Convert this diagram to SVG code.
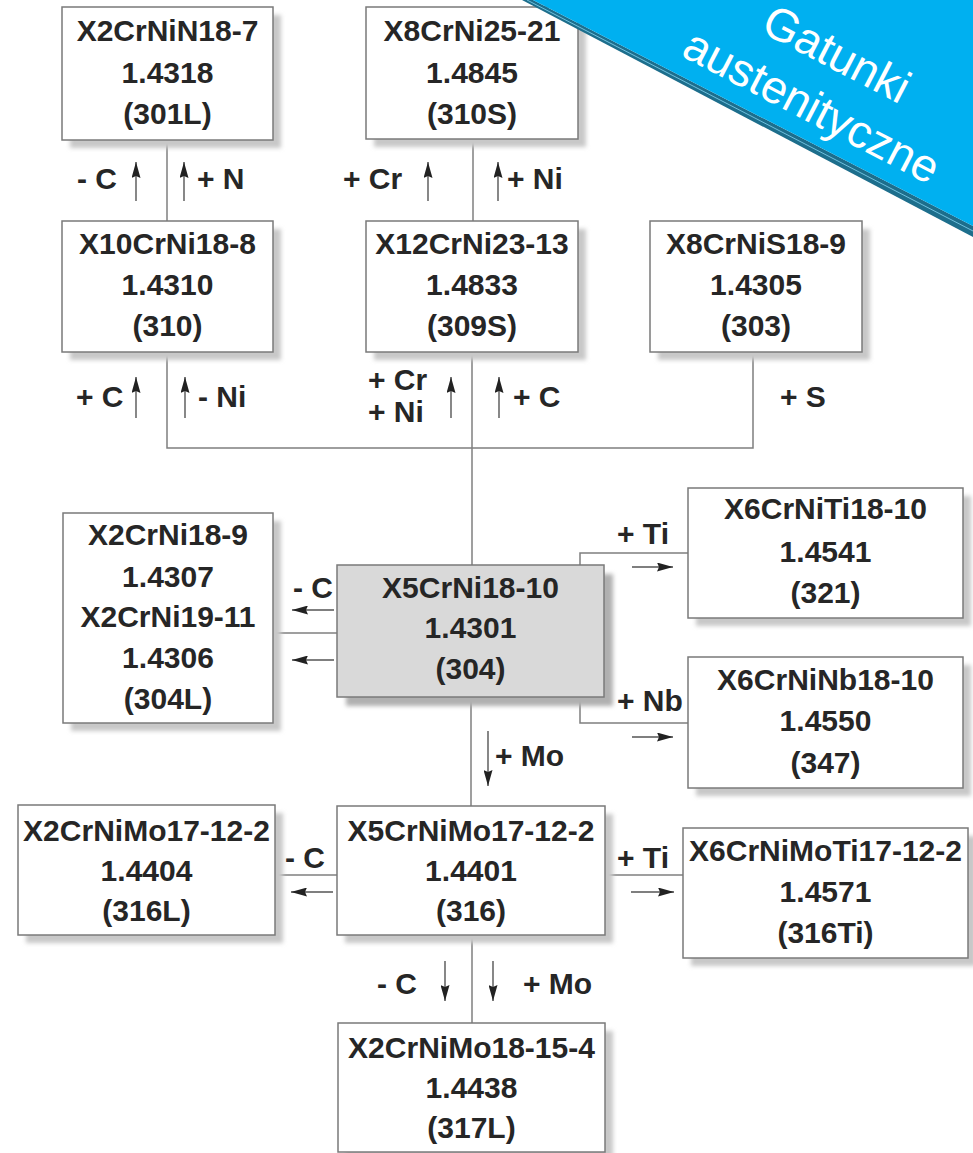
<svg xmlns="http://www.w3.org/2000/svg" width="973" height="1153" viewBox="0 0 973 1153">
<style>
.box{fill:#fff;stroke:#7a7a7a;stroke-width:1.5}
.cbox{fill:#d9d9d9;stroke:#7a7a7a;stroke-width:1.5}
.sh{fill:#c8c8c8;filter:url(#blur)}
.csh{fill:#b0b0b0;filter:url(#blur)}
.t{font-family:"Liberation Sans",Arial,sans-serif;font-weight:bold;font-size:30px;fill:#262626;text-anchor:middle}
.l{font-family:"Liberation Sans",Arial,sans-serif;font-weight:bold;font-size:30px;fill:#262626}
.c{fill:none;stroke:#7f7f7f;stroke-width:1.5}
.a{stroke:#555;stroke-width:1.4;marker-end:url(#ah)}
.b{font-family:"Liberation Sans",Arial,sans-serif;font-size:46px;fill:#fff;text-anchor:middle}
</style>
<defs>
<filter id="blur" x="-10%" y="-10%" width="120%" height="120%"><feGaussianBlur stdDeviation="2"/></filter>
<marker id="ah" viewBox="0 0 16 9" refX="16" refY="4.5" markerWidth="16" markerHeight="9" orient="auto" markerUnits="userSpaceOnUse"><path d="M0,0 L16,4.5 L0,9 L2,4.5 z" fill="#222"/></marker>
</defs>
<rect width="973" height="1153" fill="#fff"/>

<g id="connectors">
<path class="c" d="M167,140 V221"/>
<path class="c" d="M473,139 V221"/>
<path class="c" d="M167,352 V448 H753 V352"/>
<path class="c" d="M472,352 V565"/>
<path class="c" d="M273,633 H337"/>
<path class="c" d="M580,565 V553 H688"/>
<path class="c" d="M580,697 V723 H688"/>
<path class="c" d="M471,697 V806"/>
<path class="c" d="M275,875 H337"/>
<path class="c" d="M605,875 H683"/>
<path class="c" d="M472,935 V1023"/>
<line class="a" x1="136" y1="201" x2="136" y2="162"/>
<line class="a" x1="184" y1="201" x2="184" y2="162"/>
<line class="a" x1="428" y1="201" x2="428" y2="162"/>
<line class="a" x1="498" y1="201" x2="498" y2="162"/>
<line class="a" x1="136" y1="418" x2="136" y2="377"/>
<line class="a" x1="185" y1="418" x2="185" y2="377"/>
<line class="a" x1="451" y1="418" x2="451" y2="377"/>
<line class="a" x1="499" y1="418" x2="499" y2="377"/>
<line class="a" x1="488" y1="731" x2="488" y2="786"/>
<line class="a" x1="445" y1="961" x2="445" y2="1001"/>
<line class="a" x1="493" y1="961" x2="493" y2="1001"/>
<line class="a" x1="334" y1="610" x2="292" y2="610"/>
<line class="a" x1="334" y1="660" x2="292" y2="660"/>
<line class="a" x1="333" y1="892" x2="291" y2="892"/>
<line class="a" x1="632" y1="567" x2="673" y2="567"/>
<line class="a" x1="632" y1="737" x2="673" y2="737"/>
<line class="a" x1="631" y1="892" x2="674" y2="892"/>
<text class="l" x="77" y="189">- C</text>
<text class="l" x="197" y="189">+ N</text>
<text class="l" x="343" y="189">+ Cr</text>
<text class="l" x="507" y="189">+ Ni</text>
<text class="l" x="76" y="407">+ C</text>
<text class="l" x="198" y="407">- Ni</text>
<text class="l" x="368" y="390">+ Cr</text>
<text class="l" x="368" y="422">+ Ni</text>
<text class="l" x="513" y="407">+ C</text>
<text class="l" x="780" y="407">+ S</text>
<text class="l" x="293" y="598">- C</text>
<text class="l" x="617" y="544">+ Ti</text>
<text class="l" x="617" y="711">+ Nb</text>
<text class="l" x="495" y="766">+ Mo</text>
<text class="l" x="285" y="868">- C</text>
<text class="l" x="617" y="868">+ Ti</text>
<text class="l" x="377" y="994">- C</text>
<text class="l" x="523" y="994">+ Mo</text>
</g>

<g id="n1">
<rect class="sh" x="70" y="15" width="211" height="133"/>
<rect class="box" x="62" y="7" width="211" height="133"/>
<text class="t" x="167.5" y="41">X2CrNiN18-7</text>
<text class="t" x="167.5" y="83">1.4318</text>
<text class="t" x="167.5" y="124">(301L)</text>
</g>
<g id="n2">
<rect class="sh" x="374" y="15" width="212" height="132"/>
<rect class="box" x="366" y="7" width="212" height="132"/>
<text class="t" x="472" y="41">X8CrNi25-21</text>
<text class="t" x="472" y="83">1.4845</text>
<text class="t" x="472" y="124">(310S)</text>
</g>
<g id="n3">
<rect class="sh" x="70" y="229" width="211" height="131"/>
<rect class="box" x="62" y="221" width="211" height="131"/>
<text class="t" x="167.5" y="254">X10CrNi18-8</text>
<text class="t" x="167.5" y="295">1.4310</text>
<text class="t" x="167.5" y="336">(310)</text>
</g>
<g id="n4">
<rect class="sh" x="374" y="229" width="212" height="131"/>
<rect class="box" x="366" y="221" width="212" height="131"/>
<text class="t" x="472" y="254">X12CrNi23-13</text>
<text class="t" x="472" y="295">1.4833</text>
<text class="t" x="472" y="336">(309S)</text>
</g>
<g id="n5">
<rect class="sh" x="658" y="229" width="212" height="131"/>
<rect class="box" x="650" y="221" width="212" height="131"/>
<text class="t" x="756" y="254">X8CrNiS18-9</text>
<text class="t" x="756" y="295">1.4305</text>
<text class="t" x="756" y="336">(303)</text>
</g>
<g id="n6">
<rect class="sh" x="71" y="521" width="210" height="210"/>
<rect class="box" x="63" y="513" width="210" height="210"/>
<text class="t" x="168" y="545">X2CrNi18-9</text>
<text class="t" x="168" y="587">1.4307</text>
<text class="t" x="168" y="627">X2CrNi19-11</text>
<text class="t" x="168" y="668">1.4306</text>
<text class="t" x="168" y="709">(304L)</text>
</g>
<g id="n7">
<rect class="csh" x="346" y="574" width="267" height="132"/>
<rect class="cbox" x="337" y="565" width="267" height="132"/>
<text class="t" x="470.5" y="598">X5CrNi18-10</text>
<text class="t" x="470.5" y="638">1.4301</text>
<text class="t" x="470.5" y="679">(304)</text>
</g>
<g id="n8">
<rect class="sh" x="696" y="496" width="275" height="130"/>
<rect class="box" x="688" y="488" width="275" height="130"/>
<text class="t" x="825.5" y="519">X6CrNiTi18-10</text>
<text class="t" x="825.5" y="562">1.4541</text>
<text class="t" x="825.5" y="603">(321)</text>
</g>
<g id="n9">
<rect class="sh" x="696" y="665" width="275" height="131"/>
<rect class="box" x="688" y="657" width="275" height="131"/>
<text class="t" x="825.5" y="690">X6CrNiNb18-10</text>
<text class="t" x="825.5" y="731">1.4550</text>
<text class="t" x="825.5" y="773">(347)</text>
</g>
<g id="n10">
<rect class="sh" x="26" y="813" width="257" height="130"/>
<rect class="box" x="18" y="805" width="257" height="130"/>
<text class="t" x="146.5" y="841">X2CrNiMo17-12-2</text>
<text class="t" x="146.5" y="881">1.4404</text>
<text class="t" x="146.5" y="921">(316L)</text>
</g>
<g id="n11">
<rect class="sh" x="345" y="814" width="268" height="129"/>
<rect class="box" x="337" y="806" width="268" height="129"/>
<text class="t" x="471" y="841">X5CrNiMo17-12-2</text>
<text class="t" x="471" y="881">1.4401</text>
<text class="t" x="471" y="921">(316)</text>
</g>
<g id="n12">
<rect class="sh" x="691" y="836" width="285" height="130"/>
<rect class="box" x="683" y="828" width="285" height="130"/>
<text class="t" x="825.5" y="861">X6CrNiMoTi17-12-2</text>
<text class="t" x="825.5" y="902">1.4571</text>
<text class="t" x="825.5" y="943">(316Ti)</text>
</g>
<g id="n13">
<rect class="sh" x="346" y="1031" width="267" height="130"/>
<rect class="box" x="338" y="1023" width="267" height="129"/>
<text class="t" x="471.5" y="1058">X2CrNiMo18-15-4</text>
<text class="t" x="471.5" y="1098">1.4438</text>
<text class="t" x="471.5" y="1138">(317L)</text>
</g>

<g id="banner">
<polygon points="522,0 533,0 973,226 973,237" fill="#1d6e8c"/>
<line x1="527" y1="0" x2="973" y2="231" stroke="#6fc0de" stroke-width="1"/>
<polygon points="533,0 973,0 973,226" fill="#00b0f0"/>
<g transform="translate(812,106) rotate(27.5)">
<text class="b" x="-2" y="-42">Gatunki</text>
<text class="b" x="0" y="16">austenityczne</text>
</g>
</g>
</svg>
